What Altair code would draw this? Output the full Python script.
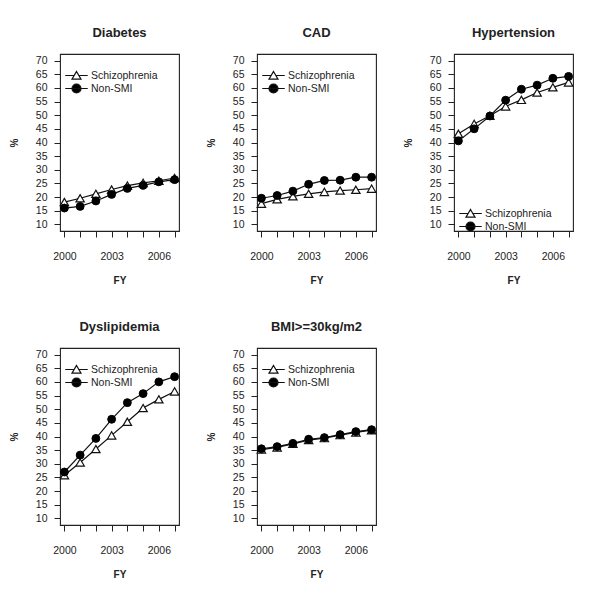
import altair as alt
import pandas as pd

years = [2000, 2001, 2002, 2003, 2004, 2005, 2006, 2007]
series_names = ["Schizophrenia", "Non-SMI"]

diabetes_schiz = [18.2, 19.6, 21.2, 22.8, 24.2, 25.2, 26.0, 27.0]
diabetes_nonsmi = [16.0, 16.6, 18.6, 21.0, 23.2, 24.3, 25.6, 26.4]
cad_schiz = [17.6, 19.2, 20.3, 21.2, 21.9, 22.4, 22.7, 23.1]
cad_nonsmi = [19.6, 20.6, 22.2, 24.7, 26.1, 26.2, 27.3, 27.3]
htn_schiz = [43.2, 46.8, 49.8, 53.2, 55.6, 58.3, 60.2, 62.0]
htn_nonsmi = [40.6, 45.0, 49.7, 55.5, 59.5, 61.0, 63.5, 64.2]
dys_schiz = [25.8, 30.5, 35.4, 40.4, 45.4, 50.4, 53.6, 56.5]
dys_nonsmi = [27.0, 33.2, 39.3, 46.3, 52.4, 55.7, 60.0, 61.9]
bmi_schiz = [35.2, 36.0, 37.3, 38.7, 39.4, 40.5, 41.5, 42.3]
bmi_nonsmi = [35.5, 36.3, 37.5, 39.0, 39.6, 40.7, 41.8, 42.5]

y_ticks = list(range(10, 75, 5))
x_label_years = [2000, 2003, 2006]

FONT = "Liberation Sans"
TXT = "#222222"

# legend symbols: line segment with marker
sym_schiz = "M-2.5,0H-0.55M0.55,0H2.5M0,-0.9L1,0.8L-1,0.8Z"
sym_nonsmi = "M-2.5,0H2.5M1,0A1,1,0,1,1,-1,0A1,1,0,1,1,1,0Z"


def panel(title, schiz, nonsmi, legend_y):
    df = pd.DataFrame({
        "FY": years * 2,
        "pct": list(schiz) + list(nonsmi),
        "series": [series_names[0]] * len(years) + [series_names[1]] * len(years),
    })
    base = alt.Chart(df)
    x = alt.X("FY:Q", title="FY",
              scale=alt.Scale(domain=[1999.72, 2007.28], nice=False, zero=False),
              axis=alt.Axis(values=years, format="d", grid=False, domain=False,
                            labelExpr="indexof([2000,2003,2006], datum.value) >= 0 ? datum.label : ''",
                            tickSize=6, tickColor="#222", labelPadding=14,
                            labelFontSize=10.5, labelFont=FONT, labelColor=TXT,
                            titleFontSize=10, titleFont=FONT, titleFontWeight="bold",
                            titleColor=TXT, titlePadding=14))
    y = alt.Y("pct:Q", title="%",
              scale=alt.Scale(domain=[7.6, 72.4], nice=False, zero=False),
              axis=alt.Axis(values=y_ticks, grid=False, domain=False,
                            tickSize=6, tickColor="#222", labelPadding=7,
                            labelFontSize=10.5, labelFont=FONT, labelColor=TXT,
                            titleFontSize=10, titleFont=FONT, titleFontWeight="bold",
                            titleColor=TXT, titlePadding=16))
    lines = base.mark_line(color="#111", strokeWidth=1.2).encode(
        x=x, y=y, detail="series:N")
    pts_s = base.transform_filter(alt.datum.series == series_names[0]).mark_point(
        shape="triangle-up", filled=True, fill="white", stroke="#111",
        strokeWidth=1.2, size=70, opacity=1).encode(x=x, y=y)
    pts_n = base.transform_filter(alt.datum.series == series_names[1]).mark_point(
        shape="circle", filled=True, fill="black", stroke="black",
        strokeWidth=1, size=62, opacity=1).encode(x=x, y=y)
    leg = alt.Legend(orient="none", legendX=11, legendY=legend_y, title=None,
                     symbolSize=81, symbolStrokeColor="#111", symbolStrokeWidth=1.2,
                     labelFontSize=10.5, labelFont=FONT, labelColor=TXT,
                     labelOffset=9, rowPadding=-1, padding=0, symbolOpacity=1)
    legend_layer = base.transform_filter("false").mark_point(
        filled=True, opacity=1, strokeWidth=1.2).encode(
        shape=alt.Shape("series:N", scale=alt.Scale(domain=series_names,
                                                    range=[sym_schiz, sym_nonsmi]),
                        legend=leg),
        fill=alt.Fill("series:N", scale=alt.Scale(domain=series_names,
                                                  range=["white", "black"]),
                      legend=leg),
        stroke=alt.Stroke("series:N", scale=alt.Scale(domain=series_names,
                                                      range=["#111111", "#111111"]),
                          legend=leg),
    )
    return alt.layer(lines, pts_s, pts_n, legend_layer).properties(
        width=119, height=177,
        title=alt.TitleParams(title, fontSize=13, font=FONT, fontWeight="bold",
                              color=TXT, anchor="middle", frame="group", offset=14),
    ).resolve_scale(shape="independent", fill="independent", stroke="independent")


p1 = panel("Diabetes", diabetes_schiz, diabetes_nonsmi, 16)
p2 = panel("CAD", cad_schiz, cad_nonsmi, 16)
p3 = panel("Hypertension", htn_schiz, htn_nonsmi, 154)
p4 = panel("Dyslipidemia", dys_schiz, dys_nonsmi, 16)
p5 = panel("BMI>=30kg/m2", bmi_schiz, bmi_nonsmi, 16)

chart = alt.ConcatChart(
    concat=[p1, p2, p3, p4, p5], columns=3,
    spacing={"row": 117, "column": 78}, bounds="flush",
).resolve_scale(
    x="independent", y="independent", shape="independent", fill="independent",
    stroke="independent"
).resolve_legend(shape="independent", fill="independent", stroke="independent").properties(
    padding={"left": 0, "top": 18, "right": 0, "bottom": 0}
).configure_view(stroke="#222", strokeWidth=1.1)

chart.save("out.html", embed_options={"renderer": "svg", "actions": False})
